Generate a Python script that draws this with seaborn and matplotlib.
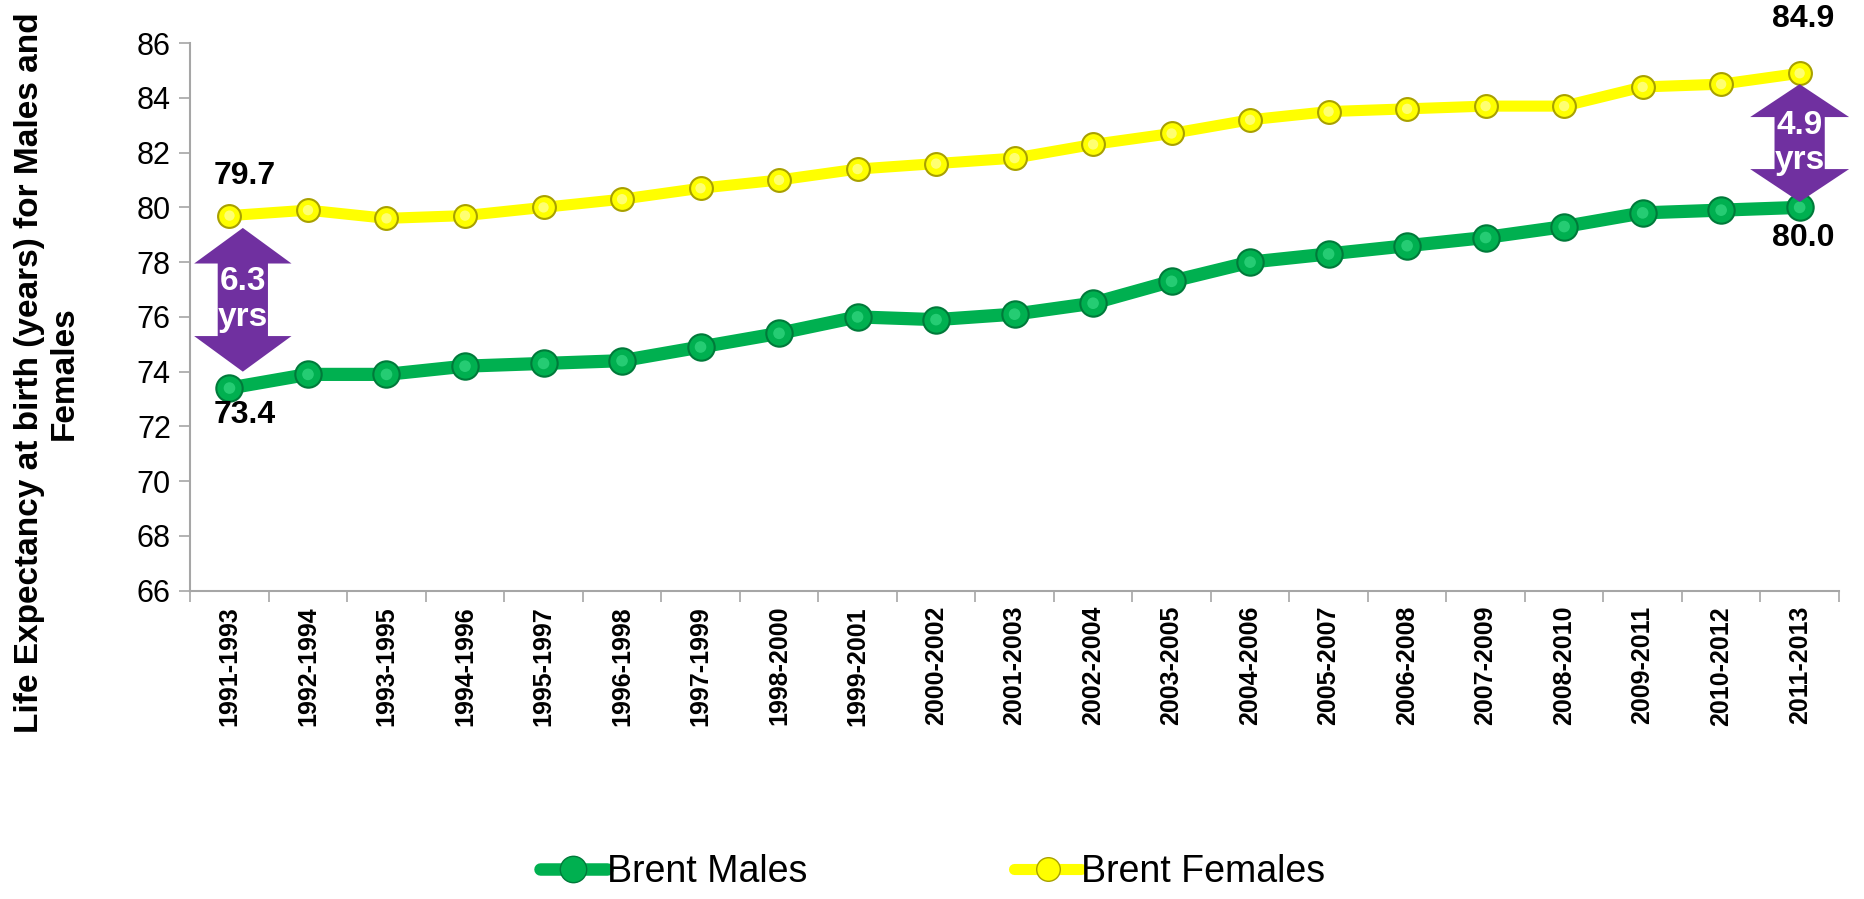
import matplotlib.pyplot as plt
import matplotlib.patches as mpatches
from matplotlib.lines import Line2D
import pandas as pd
import seaborn as sns

PERIODS = ["1991-1993", "1992-1994", "1993-1995", "1994-1996", "1995-1997",
           "1996-1998", "1997-1999", "1998-2000", "1999-2001", "2000-2002",
           "2001-2003", "2002-2004", "2003-2005", "2004-2006", "2005-2007",
           "2006-2008", "2007-2009", "2008-2010", "2009-2011", "2010-2012",
           "2011-2013"]
MALES = [73.4, 73.9, 73.9, 74.2, 74.3, 74.4, 74.9, 75.4, 76.0, 75.9, 76.1,
         76.5, 77.3, 78.0, 78.3, 78.6, 78.9, 79.3, 79.8, 79.9, 80.0]
FEMALES = [79.7, 79.9, 79.6, 79.7, 80.0, 80.3, 80.7, 81.0, 81.4, 81.6, 81.8,
           82.3, 82.7, 83.2, 83.5, 83.6, 83.7, 83.7, 84.4, 84.5, 84.9]
SERIES = ["Brent Males", "Brent Females"]
Y_TICKS = list(range(66, 87, 2))
Y_LABEL = "Life Expectancy at birth (years) for Males and\nFemales"

GREEN = "#00B050"
GREEN_DARK = "#007A3A"
GREEN_LIGHT = "#3FE08C"
YELLOW = "#FFFF00"
YELLOW_DARK = "#A8A000"
YELLOW_LIGHT = "#FFFF90"
PURPLE = "#7030A0"
GRID_GREY = "#A6A6A6"


def double_arrow(ax, xc, y_top, y_bot, gap, head_hw, shaft_hw, head_len):
    pts = [
        (xc, y_top),
        (xc + head_hw, y_top - head_len),
        (xc + shaft_hw, y_top - head_len),
        (xc + shaft_hw, y_bot + head_len),
        (xc + head_hw, y_bot + head_len),
        (xc, y_bot),
        (xc - head_hw, y_bot + head_len),
        (xc - shaft_hw, y_bot + head_len),
        (xc - shaft_hw, y_top - head_len),
        (xc - head_hw, y_top - head_len),
    ]
    poly = mpatches.Polygon(pts, closed=True, facecolor=PURPLE,
                            edgecolor="none", clip_on=False, zorder=5)
    ax.add_patch(poly)
    ax.text(xc, (y_top + y_bot) / 2, f"{gap:.1f}\nyrs", ha="center",
            va="center", color="white", fontsize=24, fontweight="bold",
            linespacing=1.2, zorder=6)


def main() -> None:
    sns.set_theme(style="white")
    plt.rcParams["font.family"] = ["Liberation Sans", "DejaVu Sans"]
    plt.rcParams["text.color"] = "black"
    plt.rcParams["xtick.color"] = "black"
    plt.rcParams["ytick.color"] = "black"

    n = len(PERIODS)
    df = pd.DataFrame({
        "pos": list(range(n)) * 2,
        "value": MALES + FEMALES,
        "series": [SERIES[0]] * n + [SERIES[1]] * n,
    })

    fig = plt.figure(figsize=(18.65, 8.99), dpi=100)
    ax = fig.add_axes([0.102, 0.343, 0.884, 0.609])

    sns.lineplot(data=df[df.series == SERIES[0]], x="pos", y="value",
                 color=GREEN, linewidth=9.5, ax=ax, legend=False, zorder=2)
    sns.lineplot(data=df[df.series == SERIES[1]], x="pos", y="value",
                 color=YELLOW, linewidth=8, ax=ax, legend=False, zorder=2)

    # shaded "ball" markers: dark rim + light core
    xs = list(range(n))
    sns.scatterplot(x=xs, y=MALES, ax=ax, s=360, color=GREEN,
                    edgecolor=GREEN_DARK, linewidth=1.5, zorder=3, legend=False)
    sns.scatterplot(x=xs, y=MALES, ax=ax, s=70, color=GREEN_LIGHT,
                    edgecolor="none", alpha=0.6, zorder=4, legend=False)
    sns.scatterplot(x=xs, y=FEMALES, ax=ax, s=270, color=YELLOW,
                    edgecolor=YELLOW_DARK, linewidth=1.5, zorder=3, legend=False)
    sns.scatterplot(x=xs, y=FEMALES, ax=ax, s=55, color=YELLOW_LIGHT,
                    edgecolor="none", alpha=0.8, zorder=4, legend=False)

    ax.set_xlim(-0.5, n - 0.5)
    ax.set_ylim(Y_TICKS[0], Y_TICKS[-1])
    ax.set_yticks(Y_TICKS)
    ax.set_yticklabels([str(t) for t in Y_TICKS], fontsize=22)
    ax.set_xticks(range(n))
    ax.set_xticklabels(PERIODS, rotation=90, fontsize=18, fontweight="bold")
    ax.set_xticks([i - 0.5 for i in range(n + 1)], minor=True)
    ax.tick_params(axis="x", which="major", length=0, pad=11)
    ax.tick_params(axis="x", which="minor", length=8, width=1.2,
                   color=GRID_GREY, direction="out", bottom=True)
    ax.tick_params(axis="y", length=8, width=1.2, color=GRID_GREY,
                   direction="out", left=True, pad=6)
    ax.set_xlabel("")
    ax.set_ylabel("")
    for side in ["top", "right"]:
        ax.spines[side].set_visible(False)
    for side in ["left", "bottom"]:
        ax.spines[side].set_color(GRID_GREY)
        ax.spines[side].set_linewidth(1.5)

    # value labels at both ends
    lbl = dict(ha="center", va="center", fontsize=23, fontweight="bold",
               clip_on=False, zorder=6)
    ax.text(0.2, FEMALES[0] + 1.45, f"{FEMALES[0]:.1f}", **lbl)
    ax.text(0.2, MALES[0] - 1.0, f"{MALES[0]:.1f}", **lbl)
    ax.text(n - 1 + 0.05, FEMALES[-1] + 2.0, f"{FEMALES[-1]:.1f}", **lbl)
    ax.text(n - 1 + 0.05, MALES[-1] - 1.1, f"{MALES[-1]:.1f}", **lbl)

    double_arrow(ax, 0.17, FEMALES[0] - 0.45, MALES[0] + 0.6,
                 FEMALES[0] - MALES[0], 0.62, 0.32, 1.3)
    double_arrow(ax, n - 1, FEMALES[-1] - 0.4, MALES[-1] + 0.2,
                 FEMALES[-1] - MALES[-1], 0.63, 0.32, 1.2)

    fig.text(0.025, 0.585, Y_LABEL, rotation=90, ha="center",
             va="center", fontsize=24, fontweight="bold", linespacing=1.15)

    handles = [
        Line2D([], [], color=GREEN, linewidth=9, marker="o", markersize=19,
               markerfacecolor=GREEN, markeredgecolor=GREEN_DARK),
        Line2D([], [], color=YELLOW, linewidth=8, marker="o", markersize=17,
               markerfacecolor=YELLOW, markeredgecolor=YELLOW_DARK),
    ]
    fig.legend(handles, SERIES, loc="lower center", bbox_to_anchor=(0.5, -0.028),
               ncol=2, frameon=False, fontsize=27, handlelength=1.8,
               handletextpad=0.0, columnspacing=5.5)

    fig.savefig("out.png", dpi=100)


if __name__ == "__main__":
    main()
